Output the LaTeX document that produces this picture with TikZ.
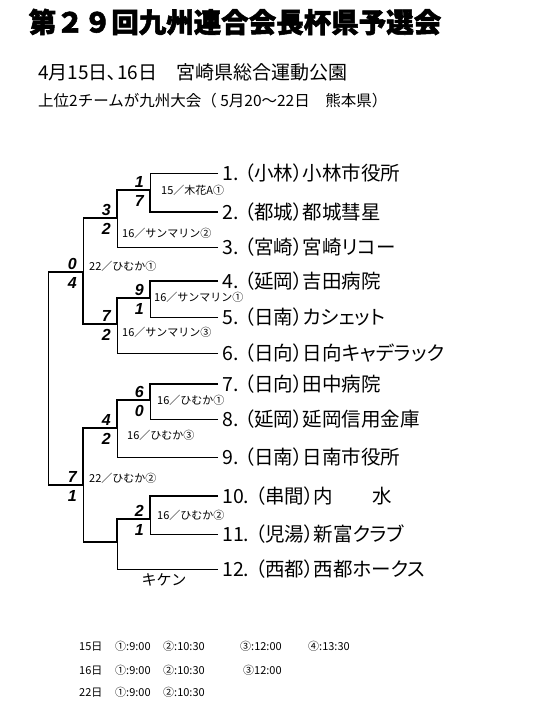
\documentclass[tikz,border=0pt]{standalone}
\usepackage{fontspec}
\setmainfont{Noto Sans CJK JP}
\newfontfamily\heavyfont{Noto Sans CJK JP}[BoldFeatures={FakeBold=2}]
\newfontfamily\teamfont{Noto Sans CJK JP}[RawFeature=+palt]
\newfontfamily\scorefont{Liberation Sans}
\usetikzlibrary{positioning}

\tikzset{
  team/.style={anchor=west, inner xsep=4pt, inner ysep=0pt, font=\teamfont\fontsize{19.5}{20}\selectfont},
  score/.style={inner sep=1pt, font=\scorefont\bfseries\itshape\fontsize{16}{16}\selectfont},
  game/.style={anchor=west, inner sep=0pt, font=\fontsize{11}{11}\selectfont},
  win/.style={line width=2.8pt},
  lose/.style={line width=0.9pt}
}

\begin{document}
\begin{tikzpicture}[x=1pt,y=-1pt]
  \fill[white] (0,0) rectangle (540,720);
  \useasboundingbox (0,0) rectangle (540,720);

  % headings
  \node[font=\heavyfont\bfseries\fontsize{27.5}{28}\selectfont] (title) at (235,22) {第２９回九州連合会長杯県予選会};
  \node[anchor=west, inner sep=0pt, font=\fontsize{19}{20}\selectfont] (venue) at (38,72) {4月15日､16日　宮崎県総合運動公園};
  \node[anchor=west, inner sep=0pt, font=\fontsize{15.5}{16}\selectfont] (note) at (38,101) {上位2チームが九州大会（ 5月20～22日　熊本県）};

  % teams
  \foreach \i/\y/\name in {1/173/{（小林）小林市役所}, 2/212/{（都城）都城彗星},
      3/247/{（宮崎）宮崎リコー}, 4/281/{（延岡）吉田病院}, 5/317/{（日南）カシェット},
      6/353/{（日向）日向キャデラック}, 7/384/{（日向）田中病院}, 8/419/{（延岡）延岡信用金庫},
      9/457/{（日南）日南市役所}, 10/496/{（串間）内　　水}, 11/534/{（児湯）新富クラブ},
      12/569/{（西都）西都ホークス}}
    \node[team] (t\i) at (218,\y) {\i.\hspace{6pt}\name};

  % match points
  \coordinate (m12) at (150,190);
  \coordinate (m123) at (117,218);
  \coordinate (m45) at (150,298);
  \coordinate (m456) at (117,324);
  \coordinate (m16) at (83,272);
  \coordinate (m78) at (150,400);
  \coordinate (m789) at (117,428);
  \coordinate (m1011) at (150,519);
  \coordinate (m101112) at (117,542);
  \coordinate (m712) at (83,485);
  \coordinate (final) at (48,378);

  % upper block
  \draw[lose] (t1.west) -| (m12);
  \draw[win] (t2.west) -| (m12);
  \draw[win] (m12) -| (m123);
  \draw[lose] (t3.west) -| (m123);
  \draw[win] (t4.west) -| (m45);
  \draw[lose] (t5.west) -| (m45);
  \draw[win] (m45) -| (m456);
  \draw[lose] (t6.west) -| (m456);
  \draw[win] (m123) -- (m123 -| m16);
  \draw[lose] (m123 -| m16) -- (m16);
  \draw[win] (m456) -| (m16);

  % lower block
  \draw[win] (t7.west) -| (m78);
  \draw[lose] (t8.west) -| (m78);
  \draw[win] (m78) -| (m789);
  \draw[lose] (t9.west) -| (m789);
  \draw[win] (t10.west) -| (m1011);
  \draw[lose] (t11.west) -| (m1011);
  \draw[win] (m1011) -| (m101112);
  \draw[lose] (t12.west) -| (m101112);
  \draw[win] (m789) -| (m712);
  \draw[win] (m101112) -- (m101112 -| m712);
  \draw[lose] (m101112 -| m712) -- (m712);

  % final
  \draw[win] (m16) -- (m16 -| final);
  \draw[lose] (m16 -| final) -- (final);
  \draw[win] (m712) -- (m712 -| final);
  \draw[lose] (m712 -| final) -- (final);

  % scores
  \foreach \m/\a/\b in {m12/1/7, m123/3/2, m16/0/4, m45/9/1, m456/7/2,
      m78/6/0, m789/4/2, m712/7/1, m1011/2/1} {
    \node[score, above left=1pt and 5pt of \m] (\m-up) {\a};
    \node[score, below left=4pt and 5pt of \m] (\m-dn) {\b};
  }

  % game slots
  \foreach \x/\y/\txt [count=\k] in {161/190/{15／木花A①}, 122/233/{16／サンマリン②},
      89/266/{22／ひむか①}, 154/297/{16／サンマリン①}, 122/332/{16／サンマリン③},
      157/400/{16／ひむか①}, 127/435/{16／ひむか③}, 89/478/{22／ひむか②},
      157/515/{16／ひむか②}}
    \node[game] (g\k) at (\x,\y) {\txt};
  \node[font=\fontsize{15}{15}\selectfont, inner sep=0pt] (kiken) at (164,580) {キケン};

  % times
  \node[anchor=west, inner sep=0pt, font=\fontsize{11}{11}\selectfont] (day15) at (79,646)
    {\makebox[36pt][l]{15日}\makebox[48pt][l]{①:9:00}\makebox[77pt][l]{②:10:30}\makebox[68pt][l]{③:12:00}④:13:30};
  \node[anchor=west, inner sep=0pt, font=\fontsize{11}{11}\selectfont] (day16) at (79,670)
    {\makebox[36pt][l]{16日}\makebox[48pt][l]{①:9:00}\makebox[80pt][l]{②:10:30}③12:00};
  \node[anchor=west, inner sep=0pt, font=\fontsize{11}{11}\selectfont] (day22) at (79,692)
    {\makebox[36pt][l]{22日}\makebox[48pt][l]{①:9:00}②:10:30};
\end{tikzpicture}
\end{document}
